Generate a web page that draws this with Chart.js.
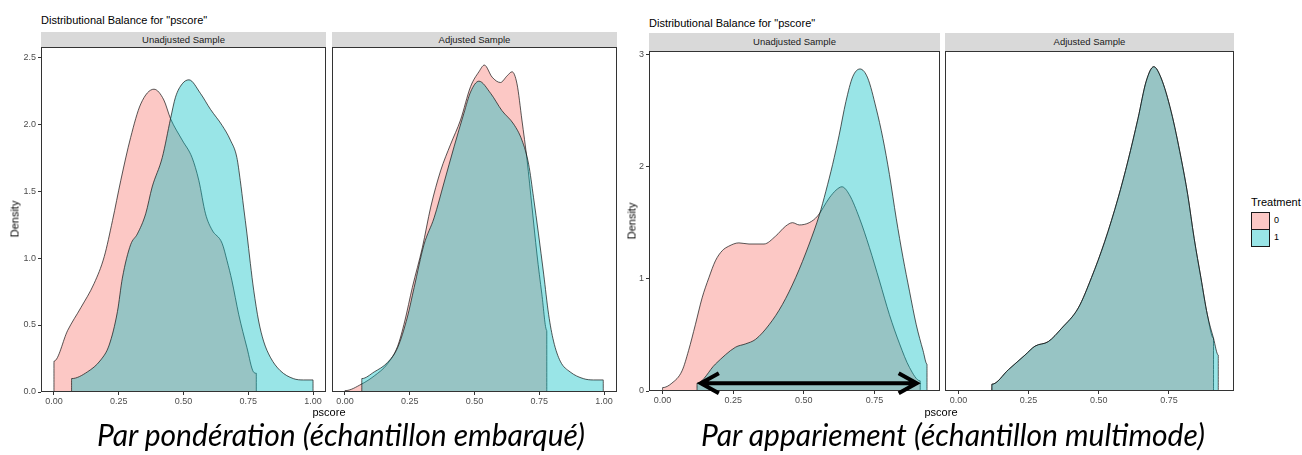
<!DOCTYPE html>
<html>
<head>
<meta charset="utf-8">
<script src="https://cdn.jsdelivr.net/npm/chart.js@4.4.1/dist/chart.umd.min.js"></script>
<style>
  body { margin: 0; background: #fff; width: 1302px; height: 455px; position: relative; overflow: hidden;
         font-family: 'Liberation Sans', Arial, sans-serif; }
  .abs { position: absolute; white-space: nowrap; }
  .title { font-size: 11px; line-height: 13px; color: #000; }
  .strip { background: #D9D9D9; color: #1A1A1A; font-size: 9.5px; text-align: center; }
  .axt { font-size: 11px; line-height: 13px; color: #000; }
  .cap { font-family: Lato, 'Open Sans', sans-serif; font-style: italic; font-size: 30px; line-height: 30px;
         color: #000; transform: translateX(-50%); }
  .key { width: 17px; height: 16px; border: 1.5px solid #1a1a1a; }
  canvas { position: absolute; }
</style>
</head>
<body>
<script>
// ── Data: "Par pondération" (weighting) ───────────────────────────
const wUnadjX0 = [0.000, 0.053, 0.104, 0.155, 0.194, 0.226, 0.258, 0.296, 0.335, 0.386, 0.424, 0.450, 0.495, 0.533, 0.559, 0.585, 0.610, 0.649, 0.668, 0.687, 0.713, 0.745, 0.770, 0.781];
const wUnadjY0 = [0.23, 0.46, 0.63, 0.81, 1.01, 1.28, 1.58, 1.90, 2.15, 2.26, 2.18, 2.04, 1.88, 1.75, 1.58, 1.33, 1.21, 1.11, 0.98, 0.83, 0.58, 0.33, 0.15, 0.14];
const wUnadjX1 = [0.068, 0.129, 0.181, 0.213, 0.245, 0.264, 0.296, 0.322, 0.354, 0.379, 0.418, 0.450, 0.469, 0.495, 0.521, 0.565, 0.604, 0.649, 0.681, 0.706, 0.719, 0.732, 0.745, 0.758, 0.771, 0.790, 0.809, 0.835, 0.873, 0.924, 0.963, 1.000];
const wUnadjY1 = [0.10, 0.15, 0.24, 0.35, 0.60, 0.85, 1.10, 1.18, 1.33, 1.53, 1.75, 2.04, 2.20, 2.30, 2.33, 2.23, 2.11, 1.99, 1.88, 1.75, 1.58, 1.38, 1.18, 0.96, 0.76, 0.53, 0.38, 0.26, 0.16, 0.10, 0.09, 0.09];
const wAdjX0 = [0.000, 0.065, 0.113, 0.164, 0.203, 0.231, 0.260, 0.299, 0.331, 0.369, 0.408, 0.446, 0.485, 0.517, 0.538, 0.568, 0.600, 0.626, 0.645, 0.664, 0.683, 0.703, 0.722, 0.741, 0.760, 0.779];
const wAdjY0 = [0.01, 0.06, 0.12, 0.21, 0.34, 0.53, 0.78, 1.08, 1.38, 1.65, 1.85, 2.03, 2.28, 2.39, 2.44, 2.35, 2.31, 2.36, 2.39, 2.30, 2.03, 1.73, 1.38, 1.03, 0.73, 0.46];
const wAdjX1 = [0.065, 0.113, 0.164, 0.203, 0.241, 0.267, 0.305, 0.344, 0.382, 0.421, 0.459, 0.485, 0.517, 0.562, 0.606, 0.651, 0.683, 0.709, 0.728, 0.747, 0.767, 0.786, 0.805, 0.831, 0.869, 0.920, 0.959, 0.997];
const wAdjY1 = [0.10, 0.15, 0.22, 0.33, 0.56, 0.78, 1.10, 1.30, 1.56, 1.83, 2.08, 2.24, 2.32, 2.23, 2.10, 2.00, 1.88, 1.70, 1.45, 1.18, 0.88, 0.58, 0.38, 0.23, 0.15, 0.10, 0.09, 0.09];

// ── Data: "Par appariement" (matching) ────────────────────────────
const mUnadjX0 = [0.000, 0.033, 0.069, 0.092, 0.116, 0.140, 0.164, 0.187, 0.211, 0.234, 0.270, 0.306, 0.359, 0.400, 0.436, 0.460, 0.484, 0.519, 0.549, 0.590, 0.614, 0.635, 0.661, 0.697, 0.732, 0.768, 0.803, 0.839, 0.874, 0.912];
const mUnadjY0 = [0.03, 0.07, 0.18, 0.36, 0.59, 0.83, 1.01, 1.16, 1.25, 1.29, 1.32, 1.31, 1.31, 1.38, 1.47, 1.50, 1.48, 1.50, 1.56, 1.72, 1.79, 1.82, 1.75, 1.54, 1.28, 0.98, 0.68, 0.42, 0.21, 0.09];
const mUnadjX1 = [0.122, 0.187, 0.258, 0.294, 0.329, 0.377, 0.424, 0.471, 0.519, 0.555, 0.578, 0.602, 0.625, 0.649, 0.673, 0.699, 0.726, 0.756, 0.780, 0.803, 0.827, 0.851, 0.874, 0.898, 0.922, 0.936];
const mUnadjY1 = [0.07, 0.24, 0.39, 0.42, 0.46, 0.59, 0.77, 1.01, 1.31, 1.57, 1.78, 2.02, 2.28, 2.58, 2.80, 2.87, 2.79, 2.52, 2.25, 1.93, 1.54, 1.19, 0.89, 0.59, 0.36, 0.24];
const mAdjX0 = [0.119, 0.178, 0.237, 0.273, 0.320, 0.368, 0.427, 0.474, 0.521, 0.569, 0.604, 0.640, 0.669, 0.696, 0.722, 0.758, 0.793, 0.817, 0.840, 0.864, 0.887, 0.909];
const mAdjY0 = [0.06, 0.19, 0.32, 0.40, 0.44, 0.56, 0.74, 1.01, 1.33, 1.72, 2.05, 2.43, 2.76, 2.89, 2.79, 2.49, 2.08, 1.75, 1.36, 1.01, 0.68, 0.47];
const mAdjX1 = [0.119, 0.178, 0.237, 0.273, 0.320, 0.368, 0.427, 0.474, 0.521, 0.569, 0.604, 0.640, 0.669, 0.696, 0.722, 0.758, 0.793, 0.817, 0.840, 0.864, 0.887, 0.909, 0.926];
const mAdjY1 = [0.06, 0.19, 0.32, 0.40, 0.44, 0.56, 0.74, 1.01, 1.33, 1.72, 2.05, 2.43, 2.76, 2.89, 2.79, 2.49, 2.08, 1.75, 1.36, 1.01, 0.68, 0.47, 0.32];

// common support arrow (pscore units, density units)
const arrowX = [0.132, 0.903];
const arrowY = 0.07;

// ── Ticks & labels ────────────────────────────────────────────────
const xTicksW = [0, 0.25, 0.5, 0.75, 1];
const xLabelsW = ['0.00', '0.25', '0.50', '0.75', '1.00'];
const yTicksW = [0, 0.5, 1, 1.5, 2, 2.5];
const yLabelsW = ['0.0', '0.5', '1.0', '1.5', '2.0', '2.5'];
const xTicksM = [0, 0.25, 0.5, 0.75];
const xLabelsM = ['0.00', '0.25', '0.50', '0.75'];
const yTicksM = [0, 1, 2, 3];
const yLabelsM = ['0', '1', '2', '3'];
const stripTitles = ['Unadjusted Sample', 'Adjusted Sample'];
const treatLevels = ['0', '1'];
const plotTitle = 'Distributional Balance for "pscore"';
const captions = ['Par pondération (échantillon embarqué)', 'Par appariement (échantillon multimode)'];

// ── Style ─────────────────────────────────────────────────────────
const FILL = ['rgba(248,118,109,0.4)', 'rgba(0,191,196,0.4)'];
const KEY_FILL = ['#FCC8C5', '#99E5E7'];
const PAD_L = 45, PAD_T = 10, PAD_R = 14, AX_H = 22;
const tickFont = { family: 'Liberation Sans', size: 9 };

function el(cls, text, css) {
  const d = document.createElement('div');
  d.className = 'abs ' + cls;
  if (text != null) d.textContent = text;
  Object.assign(d.style, css);
  document.body.appendChild(d);
  return d;
}

function toPoints(xs, ys) {
  // density polygon: drop to zero at both ends of the support
  const pts = xs.map((x, i) => ({ x, y: ys[i] }));
  return [{ x: xs[0], y: 0 }, ...pts, { x: xs[xs.length - 1], y: 0 }];
}

const framePlugin = {
  id: 'frame',
  afterDatasetsDraw(chart) {
    const { ctx, chartArea: a } = chart;
    ctx.save();
    ctx.strokeStyle = '#333';
    ctx.lineWidth = 1;
    ctx.strokeRect(Math.round(a.left) + 0.5, Math.round(a.top) + 0.5,
      Math.round(a.right - a.left) - 1, Math.round(a.bottom - a.top) - 1);
    ctx.restore();
  }
};

const arrowPlugin = {
  id: 'supportArrow',
  afterDraw(chart) {
    const { ctx, scales: { x, y } } = chart;
    const x0 = x.getPixelForValue(arrowX[0]);
    const x1 = x.getPixelForValue(arrowX[1]);
    const yy = y.getPixelForValue(arrowY);
    ctx.save();
    ctx.strokeStyle = '#000';
    ctx.lineWidth = 4;
    ctx.lineJoin = 'miter';
    ctx.beginPath();
    ctx.moveTo(x0 + 2, yy); ctx.lineTo(x1 - 2, yy);
    ctx.moveTo(x0 + 19, yy - 10); ctx.lineTo(x0 + 1, yy); ctx.lineTo(x0 + 19, yy + 10);
    ctx.moveTo(x1 - 19, yy - 10); ctx.lineTo(x1 - 1, yy); ctx.lineTo(x1 - 19, yy + 10);
    ctx.stroke();
    ctx.restore();
  }
};

// ── Panel ─────────────────────────────────────────────────────────
function makePanel(box, series, cfg) {
  const cv = document.createElement('canvas');
  const w = box.r - box.l + PAD_L + PAD_R;
  const h = box.b - box.t + PAD_T + AX_H;
  cv.width = w; cv.height = h;
  Object.assign(cv.style, { left: (box.l - PAD_L) + 'px', top: (box.t - PAD_T) + 'px', width: w + 'px', height: h + 'px' });
  document.body.appendChild(cv);

  new Chart(cv, {
    type: 'line',
    data: {
      datasets: series.map((s, i) => ({
        label: treatLevels[i],
        data: toPoints(s[0], s[1]),
        borderColor: '#111',
        borderWidth: 0.7,
        backgroundColor: FILL[i],
        fill: 'origin',
        pointRadius: 0,
        cubicInterpolationMode: 'monotone',
        order: 1 - i,
      })),
    },
    options: {
      responsive: false,
      animation: false,
      devicePixelRatio: 1,
      layout: { padding: { left: 0, top: PAD_T, right: PAD_R, bottom: 0 } },
      plugins: { legend: { display: false }, tooltip: { enabled: false } },
      scales: {
        x: {
          type: 'linear', min: cfg.xMin, max: cfg.xMax,
          afterFit: s => { s.height = AX_H; },
          afterBuildTicks: s => { s.ticks = cfg.xTicks.map(v => ({ value: v })); },
          ticks: { callback: (v, i) => cfg.xLabels[i], font: tickFont, color: '#4D4D4D', padding: 1, maxRotation: 0, autoSkip: false },
          grid: { drawOnChartArea: false, drawTicks: true, tickLength: 3, color: '#333' },
          border: { display: false },
        },
        y: {
          type: 'linear', min: 0, max: cfg.yMax,
          afterFit: s => { s.width = PAD_L; },
          afterBuildTicks: s => { s.ticks = cfg.yTicks.map(v => ({ value: v })); },
          ticks: { display: cfg.showY, callback: (v, i) => cfg.yLabels[i], font: tickFont, color: '#4D4D4D', padding: 2, autoSkip: false },
          grid: { drawOnChartArea: false, drawTicks: cfg.showY, tickLength: 3, color: '#333' },
          border: { display: false },
        },
      },
    },
    plugins: cfg.arrow ? [framePlugin, arrowPlugin] : [framePlugin],
  });
}

// ── Figure 1: weighting ───────────────────────────────────────────
const wCfg = { xMin: -0.05, xMax: 1.05, yMax: 2.575, xTicks: xTicksW, xLabels: xLabelsW, yTicks: yTicksW, yLabels: yLabelsW };
const wBoxes = [{ l: 41, t: 47, r: 326, b: 392 }, { l: 332, t: 47, r: 617, b: 392 }];
el('title', plotTitle, { left: '41px', top: '14px' });
wBoxes.forEach((b, i) => el('strip', stripTitles[i], { left: b.l + 'px', top: '32px', width: (b.r - b.l) + 'px', height: '15px', lineHeight: '15px' }));
makePanel(wBoxes[0], [[wUnadjX0, wUnadjY0], [wUnadjX1, wUnadjY1]], { ...wCfg, showY: true });
makePanel(wBoxes[1], [[wAdjX0, wAdjY0], [wAdjX1, wAdjY1]], { ...wCfg, showY: false });
el('axt', 'pscore', { left: '329px', top: '406px', transform: 'translateX(-50%)' });
el('axt', 'Density', { left: '15px', top: '219px', transform: 'translate(-50%,-50%) rotate(-90deg)' });
el('cap', captions[0], { left: '341px', top: '419px' });

// ── Figure 2: matching ────────────────────────────────────────────
const mCfg = { xMin: -0.048, xMax: 0.982, yMax: 3.03, xTicks: xTicksM, xLabels: xLabelsM, yTicks: yTicksM, yLabels: yLabelsM };
const mBoxes = [{ l: 649, t: 51, r: 940, b: 391 }, { l: 945, t: 51, r: 1234, b: 391 }];
el('title', plotTitle, { left: '649px', top: '17px' });
mBoxes.forEach((b, i) => el('strip', stripTitles[i], { left: b.l + 'px', top: '33px', width: (b.r - b.l) + 'px', height: '18px', lineHeight: '18px' }));
makePanel(mBoxes[0], [[mUnadjX0, mUnadjY0], [mUnadjX1, mUnadjY1]], { ...mCfg, showY: true, arrow: true });
makePanel(mBoxes[1], [[mAdjX0, mAdjY0], [mAdjX1, mAdjY1]], { ...mCfg, showY: false });
el('axt', 'pscore', { left: '941px', top: '406px', transform: 'translateX(-50%)' });
el('axt', 'Density', { left: '632px', top: '221px', transform: 'translate(-50%,-50%) rotate(-90deg)' });
el('cap', captions[1], { left: '953px', top: '419px' });

// legend
el('axt', 'Treatment', { left: '1251px', top: '196px' });
treatLevels.forEach((lv, i) => {
  el('key', null, { left: '1251px', top: (212 + i * 17) + 'px', background: KEY_FILL[i] });
  el('axt', lv, { left: '1274px', top: (215 + i * 17) + 'px', fontSize: '9px', lineHeight: '11px' });
});
</script>
</body>
</html>
